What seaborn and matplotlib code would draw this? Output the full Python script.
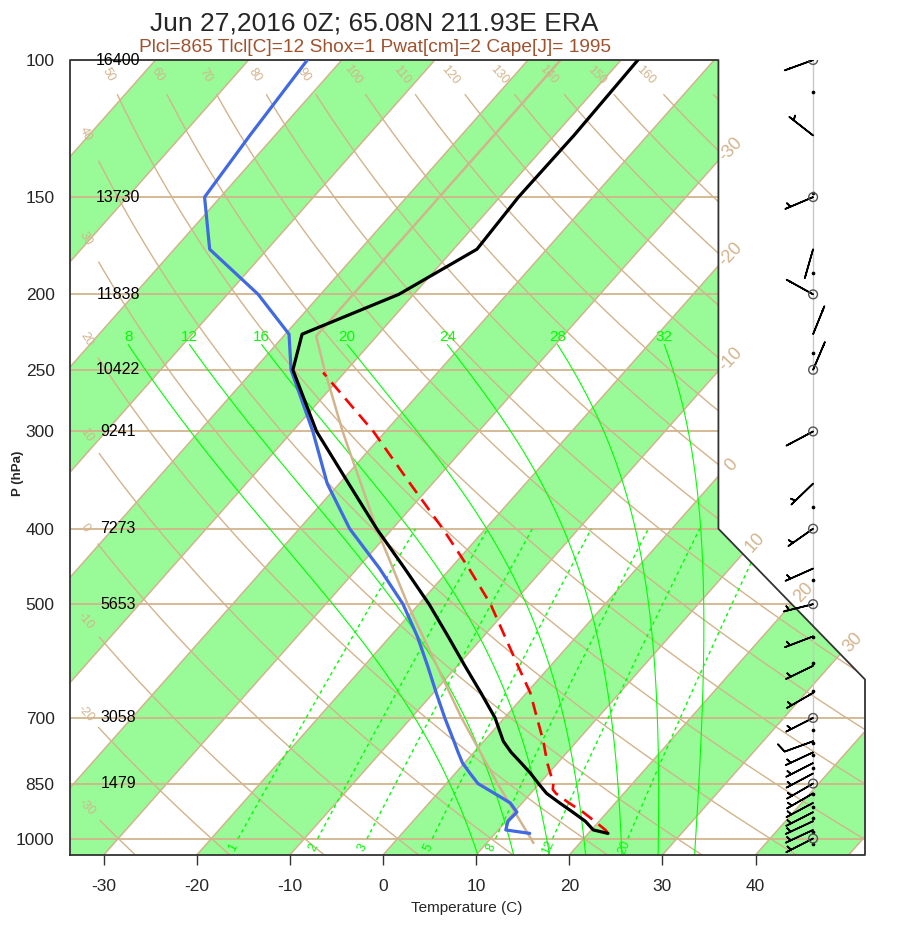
import warnings

import matplotlib
matplotlib.use('Agg')
import matplotlib.pyplot as plt
from matplotlib.patches import Polygon
import numpy as np
import pandas as pd
import seaborn as sns

warnings.simplefilter('ignore')

# ---------------------------------------------------------------
# Sounding values (hPa, deg C)
# ---------------------------------------------------------------
snd_p = [985, 975, 950, 925, 900, 875, 850, 825, 800, 775, 750, 700, 650,
         600, 550, 500, 450, 400, 350, 300, 250, 225, 200, 175, 150, 125, 100]
snd_t = [22.1, 20.2, 18.5, 16.3, 14.0, 11.7, 9.9, 8.1, 6.1, 4.0, 2.1, -1.0,
         -4.9, -9.2, -13.8, -18.9, -24.9, -31.7, -39.0, -47.4, -55.8, -58.2,
         -51.6, -47.5, -48.0, -47.9, -48.2]
snd_td = [13.7, 10.8, 10.2, 10.3, 8.7, 6.1, 3.4, 1.6, -0.2, -1.7, -3.2, -6.4,
          -9.7, -13.2, -17.1, -21.7, -27.6, -34.6, -41.3, -47.8, -56.0, -59.6,
          -66.7, -76.2, -81.7, -82.7, -83.7]

parcel_p = [985, 975, 950, 925, 900, 875, 865, 850, 800, 750, 700, 650, 600,
            550, 500, 450, 400, 350, 300, 252]
parcel_t = [22.1, 21.5, 19.5, 17.4, 15.0, 12.7, 12.0, 11.5, 8.9, 6.4, 3.5, 0.4,
            -3.5, -7.7, -12.3, -18.0, -24.6, -32.4, -41.3, -52.3]

# US standard atmosphere reference profile
std_p = [1013.25, 1000, 850, 700, 500, 400, 300, 250, 226.32, 100]
std_t = [15.0, 14.3, 5.5, -4.6, -21.2, -31.7, -44.6, -52.4, -56.5, -56.5]

# winds (direction wind blows from, speed in plotted units)
wind_p = [100, 125, 150, 175, 200, 225, 250, 300, 350, 400, 450, 500, 550,
          600, 650, 700, 750, 775, 800, 825, 850, 875, 900, 925, 950, 975, 1000]
wind_dir = [250, 308, 247, 196, 299, 22, 23, 242, 226, 235, 246, 256, 249,
            244, 240, 243, 250, 245, 243, 242, 240, 240, 242, 243, 245, 245, 243]
wind_spd = [3, 5, 5, 3, 3, 3, 3, 3, 5, 5, 5, 5, 5,
            5, 5, 5, 10, 5, 5, 5, 5, 5, 5, 5, 5, 5, 5]
dot_p = [110, 148, 188, 238, 375, 465, 551, 595, 646, 726, 754, 781, 812,
         877, 911, 941, 981, 1016]
ring_p = [100, 150, 200, 250, 300, 400, 500, 700, 850, 1000]

# isobar labels and geopotential heights (m)
isobar_p = [100, 150, 200, 250, 300, 400, 500, 700, 850, 1000]
hgt_p = [100, 150, 200, 250, 300, 400, 500, 700, 850]
hgt_m = [16400, 13730, 11838, 10422, 9241, 7273, 5653, 3058, 1479]

temp_ticks = [-30, -20, -10, 0, 10, 20, 30, 40]
dry_theta = list(range(-30, 180, 10))
moist_tw = [8, 12, 16, 20, 24, 28, 32]
mix_w = [1, 2, 3, 5, 8, 12, 20]

TITLE = 'Jun 27,2016 0Z; 65.08N 211.93E ERA'
SUBTITLE = 'Plcl=865 Tlcl[C]=12 Shox=1 Pwat[cm]=2 Cape[J]= 1995'

TAN = '#d2b48c'
BAND = '#98fb98'
LIME = '#00ff00'

# skew-T plotting coordinates
XMIN, XMAX = -19.0, 27.1
YMIN, YMAX = -0.9346217, 44.061
BOX_X = [XMIN, XMAX, XMAX, 18.6, 18.6, XMIN, XMIN]
BOX_Y = [YMIN, YMIN, 9.0, 17.53, YMAX, YMAX, YMIN]
X_STAFF = 24.09


def y_of_p(p):
    """Vertical plot coordinate for pressure (hPa)."""
    return 132.182 - 44.061 * np.log10(np.asarray(p, dtype=float))


def x_of(t, p):
    """Skewed horizontal plot coordinate for temperature at pressure."""
    return 0.54 * np.asarray(t, dtype=float) + 0.90692 * y_of_p(p)


def dewpoint_of_mixing(w, p):
    """Temperature (C) at which mixing ratio w (g/kg) saturates."""
    e = w * p / (622.0 + w)
    a = np.log(e / 6.112)
    return 243.5 * a / (17.67 - a)


def moist_adiabat(tw, p_top, p_bot=1050.0):
    """Pseudo-adiabat through tw (C) at 1000 hPa."""
    rd, cp, lv, eps = 287.04, 1005.7, 2.501e6, 0.622

    def slope(t, p):
        es = 6.112 * np.exp(17.67 * (t - 273.15) / (t - 29.65))
        rs = eps * es / (p - es)
        return (rd * t + lv * rs) / (cp + lv * lv * rs * eps / (rd * t * t))

    def run(p_end, n):
        lnp = np.linspace(np.log(1000.0), np.log(p_end), n)
        t = tw + 273.15
        out = [t]
        for i in range(1, n):
            d = lnp[i] - lnp[i - 1]
            k1 = slope(t, np.exp(lnp[i - 1]))
            k2 = slope(t + k1 * d, np.exp(lnp[i]))
            t = t + 0.5 * (k1 + k2) * d
            out.append(t)
        return np.exp(lnp), np.array(out) - 273.15

    p_up, t_up = run(p_top, 300)
    p_dn, t_dn = run(p_bot, 20)
    p_all = np.concatenate([p_dn[::-1], p_up[1:]])
    t_all = np.concatenate([t_dn[::-1], t_up[1:]])
    return p_all, t_all


def clipped(artists, clip):
    for a in artists:
        a.set_clip_path(clip)


sns.set_style('white')
plt.rcParams['font.family'] = ['Liberation Sans', 'DejaVu Sans']

fig = plt.figure(figsize=(9, 9.3), dpi=100)
ax = fig.add_axes([70 / 900, 75 / 930, 795 / 900, 795 / 930])
ax.set_xlim(XMIN, XMAX)
ax.set_ylim(YMIN, YMAX)
for s in ax.spines.values():
    s.set_visible(False)

clip = Polygon(np.column_stack([BOX_X, BOX_Y]), closed=True,
               facecolor='none', edgecolor='none', transform=ax.transData)
ax.add_patch(clip)

# shaded isotherm bands
for t0 in range(-120, 50, 20):
    bx = [0.54 * t0 + 0.90692 * YMIN, 0.54 * (t0 + 10) + 0.90692 * YMIN,
          0.54 * (t0 + 10) + 0.90692 * YMAX, 0.54 * t0 + 0.90692 * YMAX]
    clipped(ax.fill(bx, [YMIN, YMIN, YMAX, YMAX], color=BAND, lw=0,
                    zorder=0), clip)

# isotherms
for t in range(-120, 60, 10):
    clipped(ax.plot([0.54 * t + 0.90692 * YMIN, 0.54 * t + 0.90692 * YMAX],
                    [YMIN, YMAX], color=TAN, lw=1.1, zorder=1), clip)

# isobars
for p in isobar_p:
    clipped(ax.plot([XMIN, XMAX], [y_of_p(p)] * 2, color=TAN, lw=1.3,
                    zorder=1), clip)

# dry adiabats
for th in dry_theta:
    p = np.logspace(np.log10(1050), np.log10(100), 300)
    t = (th + 273.15) * (p / 1000.0) ** 0.2857 - 273.15
    xx, yy = x_of(t, p), y_of_p(p)
    x_top = x_of((th + 273.15) * 0.1045 ** 0.2857 - 273.15, 104.5)
    if x_top > XMIN + 1.0:
        keep = p >= 110
        if th <= 160:
            ang = np.degrees(np.arctan2(yy[-40] - yy[-30], xx[-40] - xx[-30]))
            ax.text(x_top, y_of_p(104.5), str(th), color=TAN, fontsize=9,
                    ha='center', va='center', rotation=ang,
                    transform_rotates_text=True, rotation_mode='anchor')
    else:
        i0 = np.argmin(np.abs(xx - (XMIN + 0.9)))
        keep = xx >= XMIN + 1.6
        ang = np.degrees(np.arctan2(yy[i0 - 5] - yy[i0 + 5],
                                    xx[i0 - 5] - xx[i0 + 5]))
        ax.text(xx[i0], yy[i0], str(th), color=TAN, fontsize=9,
                ha='center', va='center', rotation=ang,
                transform_rotates_text=True, rotation_mode='anchor')
    clipped(ax.plot(xx[keep], yy[keep], color=TAN, lw=1.0, zorder=1), clip)

# moist adiabats
for tw in moist_tw:
    p, t = moist_adiabat(tw, 232.0)
    clipped(ax.plot(x_of(t, p), y_of_p(p), color=LIME, lw=0.8, zorder=2),
            clip)
    ax.text(x_of(t[-1], p[-1]), y_of_p(p[-1]) + 0.45, str(tw), color=LIME,
            fontsize=11, ha='center', va='center')

# mixing ratio lines
for w in mix_w:
    p = np.linspace(1000, 400, 60)
    td = dewpoint_of_mixing(w, p)
    xx, yy = x_of(td, p), y_of_p(p)
    clipped(ax.plot(xx, yy, color=LIME, lw=1.0, ls=(0, (2.5, 2.5)),
                    zorder=2), clip)
    ang = np.degrees(np.arctan2(yy[10] - yy[0], xx[10] - xx[0]))
    ax.text(x_of(dewpoint_of_mixing(w, 1026.0), 1026.0), y_of_p(1026.0),
            str(w), color=LIME, fontsize=9, ha='center', va='center',
            rotation=ang, transform_rotates_text=True,
            rotation_mode='anchor')

# isotherm labels along the right boundary
for t in [-30, -20, -10, 0, 10, 20, 30]:
    y_hit = (18.6 - 0.54 * t) / 0.90692
    if y_hit >= 17.53:
        xh, yh = 18.6, y_hit
    else:
        s = (0.54 * t - (18.6 - 0.90692 * 17.53)) / (8.5 + 0.90692 * 8.53)
        xh, yh = 18.6 + 8.5 * s, 17.53 - 8.53 * s
    ax.annotate(str(t), (xh, yh), xytext=(9, 8), textcoords='offset points',
                color=TAN, fontsize=13, ha='center', va='center',
                rotation=47)

# standard atmosphere
ax.plot(x_of(std_t, std_p), y_of_p(std_p), color=TAN, lw=1.8, zorder=3)

# outline of the diagram
ax.plot(BOX_X, BOX_Y, color='#333333', lw=1.3, zorder=6, clip_on=False)

# heights on the isobars
for p, h in zip(hgt_p, hgt_m):
    ax.text(-16.2, y_of_p(p), str(h), fontsize=11.5, ha='center',
            va='center', color='black', zorder=7)

# sounding
snd = pd.DataFrame({'p': snd_p, 't': snd_t, 'td': snd_td})
snd['xt'] = x_of(snd['t'], snd['p'])
snd['xd'] = x_of(snd['td'], snd['p'])
snd['y'] = y_of_p(snd['p'])
parcel = pd.DataFrame({'p': parcel_p, 't': parcel_t})
parcel['x'] = x_of(parcel['t'], parcel['p'])
parcel['y'] = y_of_p(parcel['p'])

sns.lineplot(data=snd, x='xd', y='y', sort=False, estimator=None,
             color='#4169e1', lw=2.3, ax=ax, zorder=8)
sns.lineplot(data=parcel, x='x', y='y', sort=False, estimator=None,
             color='red', lw=1.9, linestyle=(0, (5, 3)), ax=ax, zorder=8)
sns.lineplot(data=snd, x='xt', y='y', sort=False, estimator=None,
             color='black', lw=2.3, ax=ax, zorder=9)

# winds
wind = pd.DataFrame({'p': wind_p, 'dir': wind_dir, 'spd': wind_spd})
rad = np.deg2rad(wind['dir'])
wind['u'] = -np.sin(rad)
wind['v'] = -np.cos(rad)
wind['y'] = y_of_p(wind['p'])
ax.plot([X_STAFF, X_STAFF], [y_of_p(1020), YMAX], color='#c8c8c8', lw=1.0,
        zorder=4)
light = wind[wind['spd'] < 5]
strong = wind[wind['spd'] >= 5]
ax.barbs(np.full(len(light), X_STAFF), light['y'], light['u'] * 5,
         light['v'] * 5, length=6.6, sizes=dict(height=0.0, emptybarb=0),
         lw=1.2, color='black', zorder=10)
ax.barbs(np.full(len(strong), X_STAFF), strong['y'],
         strong['u'] * strong['spd'], strong['v'] * strong['spd'],
         length=6.6, sizes=dict(height=0.3), lw=1.2, color='black',
         zorder=10)
ax.scatter(np.full(len(dot_p), X_STAFF), y_of_p(dot_p), s=7, color='black',
           zorder=11, lw=0)
ax.scatter(np.full(len(ring_p), X_STAFF), y_of_p(ring_p), s=40,
           facecolors='none', edgecolors='#555555', lw=1.0, zorder=11)

# axes ticks and labels
ax.set_xticks(x_of(temp_ticks, 1050))
ax.set_xticklabels([str(t) for t in temp_ticks])
ax.set_yticks(y_of_p(isobar_p))
ax.set_yticklabels([str(p) for p in isobar_p])
ax.tick_params(axis='x', direction='out', length=7, width=1, pad=10,
               labelsize=12.5, bottom=True, color='#333333')
ax.tick_params(axis='y', length=0, pad=11, labelsize=12.5, left=True)
ax.set_xlabel('')
ax.set_ylabel('')

fig.text(467 / 900, 1 - 908 / 930, 'Temperature (C)', fontsize=11,
         ha='center', va='center')
fig.text(18 / 900, 1 - 473 / 930, 'P (hPa)', fontsize=9.5, weight='bold',
         rotation=90, ha='center', va='center')
fig.text(374 / 900, 1 - 23 / 930, TITLE, fontsize=19, ha='center',
         va='center')
fig.text(375 / 900, 1 - 47 / 930, SUBTITLE, fontsize=13.8, ha='center',
         va='center', color='#a0522d')

fig.savefig('out.png', dpi=100)
